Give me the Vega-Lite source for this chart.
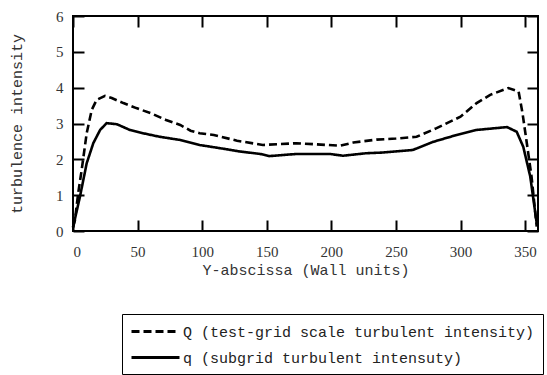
{
  "$schema": "https://vega.github.io/schema/vega-lite/v6.json",
  "autosize": "none",
  "width": 465,
  "height": 215,
  "padding": {"left": 73, "top": 16, "right": 9, "bottom": 144},
  "background": "white",
  "config": {
    "view": {"stroke": "black", "strokeWidth": 2},
    "axis": {
      "domain": false, "offset": -11, "tickColor": "#000000", "tickWidth": 2, "tickOpacity": 1, "ticks": true,
      "tickSize": 11, "grid": false,
      "labelFont": "Liberation Serif", "labelFontSize": 15, "labelColor": "#333",
      "titleFont": "Liberation Mono", "titleFontSize": 15, "titleFontWeight": "normal", "titleColor": "#333"
    },
    "legend": {
      "labelFont": "Liberation Mono", "labelFontSize": 15, "labelColor": "#222", "labelLimit": 0
    }
  },
  "data": {"values": [
    {"x": 0, "v": 0.1, "s": "Q (test-grid scale turbulent intensity)"},
    {"x": 1.5, "v": 0.3, "s": "Q (test-grid scale turbulent intensity)"},
    {"x": 4, "v": 1.05, "s": "Q (test-grid scale turbulent intensity)"},
    {"x": 6.7, "v": 1.7, "s": "Q (test-grid scale turbulent intensity)"},
    {"x": 10.6, "v": 2.73, "s": "Q (test-grid scale turbulent intensity)"},
    {"x": 14.5, "v": 3.38, "s": "Q (test-grid scale turbulent intensity)"},
    {"x": 18.3, "v": 3.66, "s": "Q (test-grid scale turbulent intensity)"},
    {"x": 24.8, "v": 3.77, "s": "Q (test-grid scale turbulent intensity)"},
    {"x": 30, "v": 3.71, "s": "Q (test-grid scale turbulent intensity)"},
    {"x": 39, "v": 3.57, "s": "Q (test-grid scale turbulent intensity)"},
    {"x": 49, "v": 3.43, "s": "Q (test-grid scale turbulent intensity)"},
    {"x": 60, "v": 3.29, "s": "Q (test-grid scale turbulent intensity)"},
    {"x": 72, "v": 3.1, "s": "Q (test-grid scale turbulent intensity)"},
    {"x": 83, "v": 2.96, "s": "Q (test-grid scale turbulent intensity)"},
    {"x": 91, "v": 2.8, "s": "Q (test-grid scale turbulent intensity)"},
    {"x": 98, "v": 2.73, "s": "Q (test-grid scale turbulent intensity)"},
    {"x": 109, "v": 2.68, "s": "Q (test-grid scale turbulent intensity)"},
    {"x": 127, "v": 2.52, "s": "Q (test-grid scale turbulent intensity)"},
    {"x": 147, "v": 2.4, "s": "Q (test-grid scale turbulent intensity)"},
    {"x": 173, "v": 2.45, "s": "Q (test-grid scale turbulent intensity)"},
    {"x": 207, "v": 2.38, "s": "Q (test-grid scale turbulent intensity)"},
    {"x": 217, "v": 2.47, "s": "Q (test-grid scale turbulent intensity)"},
    {"x": 235, "v": 2.55, "s": "Q (test-grid scale turbulent intensity)"},
    {"x": 250, "v": 2.58, "s": "Q (test-grid scale turbulent intensity)"},
    {"x": 266, "v": 2.63, "s": "Q (test-grid scale turbulent intensity)"},
    {"x": 281.5, "v": 2.87, "s": "Q (test-grid scale turbulent intensity)"},
    {"x": 300, "v": 3.19, "s": "Q (test-grid scale turbulent intensity)"},
    {"x": 312.5, "v": 3.57, "s": "Q (test-grid scale turbulent intensity)"},
    {"x": 323, "v": 3.8, "s": "Q (test-grid scale turbulent intensity)"},
    {"x": 337, "v": 3.99, "s": "Q (test-grid scale turbulent intensity)"},
    {"x": 345, "v": 3.89, "s": "Q (test-grid scale turbulent intensity)"},
    {"x": 348, "v": 3.29, "s": "Q (test-grid scale turbulent intensity)"},
    {"x": 351, "v": 2.54, "s": "Q (test-grid scale turbulent intensity)"},
    {"x": 355, "v": 1.52, "s": "Q (test-grid scale turbulent intensity)"},
    {"x": 359, "v": 0.12, "s": "Q (test-grid scale turbulent intensity)"},
    {"x": 0, "v": 0.1, "s": "q (subgrid turbulent intensuty)"},
    {"x": 5.4, "v": 0.96, "s": "q (subgrid turbulent intensuty)"},
    {"x": 10.6, "v": 1.89, "s": "q (subgrid turbulent intensuty)"},
    {"x": 15.7, "v": 2.45, "s": "q (subgrid turbulent intensuty)"},
    {"x": 21, "v": 2.82, "s": "q (subgrid turbulent intensuty)"},
    {"x": 26, "v": 3.01, "s": "q (subgrid turbulent intensuty)"},
    {"x": 34, "v": 2.98, "s": "q (subgrid turbulent intensuty)"},
    {"x": 44, "v": 2.82, "s": "q (subgrid turbulent intensuty)"},
    {"x": 54, "v": 2.73, "s": "q (subgrid turbulent intensuty)"},
    {"x": 67, "v": 2.63, "s": "q (subgrid turbulent intensuty)"},
    {"x": 83, "v": 2.54, "s": "q (subgrid turbulent intensuty)"},
    {"x": 98, "v": 2.4, "s": "q (subgrid turbulent intensuty)"},
    {"x": 114, "v": 2.31, "s": "q (subgrid turbulent intensuty)"},
    {"x": 129, "v": 2.22, "s": "q (subgrid turbulent intensuty)"},
    {"x": 145, "v": 2.15, "s": "q (subgrid turbulent intensuty)"},
    {"x": 152, "v": 2.09, "s": "q (subgrid turbulent intensuty)"},
    {"x": 173, "v": 2.15, "s": "q (subgrid turbulent intensuty)"},
    {"x": 199, "v": 2.15, "s": "q (subgrid turbulent intensuty)"},
    {"x": 209, "v": 2.1, "s": "q (subgrid turbulent intensuty)"},
    {"x": 214, "v": 2.12, "s": "q (subgrid turbulent intensuty)"},
    {"x": 227, "v": 2.17, "s": "q (subgrid turbulent intensuty)"},
    {"x": 240, "v": 2.19, "s": "q (subgrid turbulent intensuty)"},
    {"x": 263, "v": 2.26, "s": "q (subgrid turbulent intensuty)"},
    {"x": 279, "v": 2.49, "s": "q (subgrid turbulent intensuty)"},
    {"x": 297, "v": 2.68, "s": "q (subgrid turbulent intensuty)"},
    {"x": 312.5, "v": 2.82, "s": "q (subgrid turbulent intensuty)"},
    {"x": 336, "v": 2.9, "s": "q (subgrid turbulent intensuty)"},
    {"x": 343.5, "v": 2.77, "s": "q (subgrid turbulent intensuty)"},
    {"x": 348.6, "v": 2.35, "s": "q (subgrid turbulent intensuty)"},
    {"x": 354, "v": 1.52, "s": "q (subgrid turbulent intensuty)"},
    {"x": 359, "v": 0.22, "s": "q (subgrid turbulent intensuty)"}
  ]},
  "layer": [
    {
      "mark": {"type": "line", "color": "black", "strokeWidth": 2.6},
      "encoding": {
        "x": {"field": "x", "type": "quantitative", "scale": {"domain": [0, 360], "nice": false},
              "axis": {"values": [0, 50, 100, 150, 200, 250, 300, 350], "tickColor": "#000000", "tickWidth": 2, "labelPadding": 13, "title": "Y-abscissa (Wall units)", "titlePadding": 3}},
        "y": {"field": "v", "type": "quantitative", "scale": {"domain": [0, 6], "nice": false},
              "axis": {"values": [0, 1, 2, 3, 4, 5, 6], "tickColor": "#000000", "tickWidth": 2, "labelPadding": 10, "title": "turbulence intensity", "titlePadding": 31}},
        "strokeDash": {"field": "s", "type": "nominal",
          "scale": {"domain": ["Q (test-grid scale turbulent intensity)", "q (subgrid turbulent intensuty)"], "range": [[8, 4], [1, 0]]},
          "legend": {"title": null, "orient": "none", "legendX": 49, "legendY": 298, "symbolType": "M-3,0H3", "symbolSize": 256, "symbolOffset": 16, "symbolStrokeWidth": 3, "symbolStrokeColor": "black", "strokeColor": "black", "padding": 8, "rowPadding": 8, "labelOffset": 18}}
      }
    },
    {
      "mark": {"type": "line", "opacity": 0},
      "encoding": {
        "x": {"field": "x", "type": "quantitative", "axis": {"orient": "top", "values": [0, 50, 100, 150, 200, 250, 300, 350], "tickColor": "#000000", "tickWidth": 2, "labels": false, "title": null}},
        "y": {"field": "v", "type": "quantitative", "axis": {"orient": "right", "values": [0, 1, 2, 3, 4, 5, 6], "tickColor": "#000000", "tickWidth": 2, "labels": false, "title": null}},
        "detail": {"field": "s"}
      }
    }
  ],
  "resolve": {"axis": {"x": "independent", "y": "independent"}}
}
